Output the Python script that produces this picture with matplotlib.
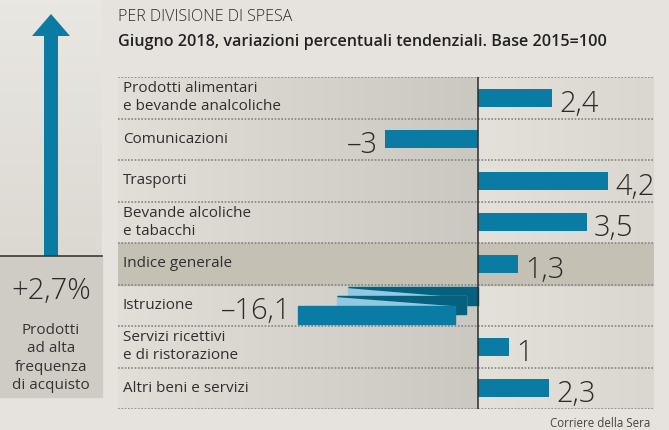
import numpy as np
import matplotlib
matplotlib.use("Agg")
import matplotlib.pyplot as plt
from matplotlib.patches import Rectangle, Polygon, FancyArrow
from matplotlib.colors import LinearSegmentedColormap

plt.rcParams['font.family'] = ['Open Sans', 'DejaVu Sans']

# dati
categories = [
    "Prodotti alimentari\ne bevande analcoliche",
    "Comunicazioni",
    "Trasporti",
    "Bevande alcoliche\ne tabacchi",
    "Indice generale",
    "Istruzione",
    "Servizi ricettivi\ne di ristorazione",
    "Altri beni e servizi",
]
values = [2.4, -3, 4.2, 3.5, 1.3, -16.1, 1, 2.3]
value_labels = ["2,4", "–3", "4,2", "3,5", "1,3", "–16,1", "1", "2,3"]
highlight = "Indice generale"

headline_value = "+2,7%"
headline_text = "Prodotti\nad alta\nfrequenza\ndi acquisto"

title = "PER DIVISIONE DI SPESA"
subtitle = "Giugno 2018, variazioni percentuali tendenziali. Base 2015=100"
source = "Corriere della Sera"

# colori
BG = "#e6e3de"
BLUE = "#0a7ba3"
DARK_BLUE = "#06617f"
LIGHT_BLUE = "#92c8e0"
HL = "#c4c1b4"

W, H = 669, 430
fig = plt.figure(figsize=(W / 100, H / 100), dpi=100, facecolor=BG)

# livello decorativo in pixel
deco = fig.add_axes([0, 0, 1, 1], zorder=0)
deco.set_xlim(0, W)
deco.set_ylim(H, 0)
deco.axis("off")

# pannello sinistro
grad = LinearSegmentedColormap.from_list("g", ["#e9e7e2", "#dcd9d3"])
deco.imshow(np.linspace(0, 1, 50).reshape(-1, 1), cmap=grad, extent=[0, 102, 256, 0],
            aspect="auto", zorder=1)
deco.add_patch(Rectangle((0, 256), 102, 141, color="#cfccc6", zorder=1))
deco.plot([0, 102], [256, 256], color="#3a3a3a", lw=1.2, zorder=3)
deco.add_patch(FancyArrow(51, 256, 0, -242, width=14, head_width=38, head_length=22,
                          length_includes_head=True, color=BLUE, lw=0, zorder=2))
deco.text(51, 291, headline_value, ha="center", va="center", fontsize=21,
          fontweight="light", color="#2a2a2a", zorder=3)
deco.text(51, 358, headline_text, ha="center", va="center", fontsize=11,
          color="#333333", linespacing=1.32, zorder=3)

# titoli
deco.text(118, 21, title, ha="left", va="baseline", fontsize=11.5,
          fontweight="light", color="#2a2a2a")
deco.text(118, 46, subtitle, ha="left", va="baseline", fontsize=11.6,
          fontweight="semibold", color="#222222")
deco.text(650, 427, source, ha="right", va="baseline", fontsize=8.3, color="#444444")

# grafico principale
ax = fig.add_axes([118 / W, 1 - 409 / H, 536 / W, 332 / H], zorder=2)
px = 31.0  # pixel per unità
xmin, xmax = -(478 - 118) / px, (654 - 478) / px
n = len(categories)
ax.set_xlim(xmin, xmax)
ax.set_ylim(n - 0.5, -0.5)
ax.axis("off")

left_grad = LinearSegmentedColormap.from_list("lg", ["#e2dfd9", "#cbc8c1"])
ax.imshow(np.linspace(0, 1, 100).reshape(1, -1), cmap=left_grad,
          extent=[xmin, 0, n - 0.5, -0.5], aspect="auto", zorder=0)
right_grad = LinearSegmentedColormap.from_list("rg", ["#e4e1db", "#dad7d1"])
ax.imshow(np.linspace(0, 1, 100).reshape(1, -1), cmap=right_grad,
          extent=[0, xmax, n - 0.5, -0.5], aspect="auto", zorder=0)

idx_hl = categories.index(highlight)
ax.add_patch(Rectangle((xmin, idx_hl - 0.5), xmax - xmin, 1, color=HL, zorder=1))

for yb in np.arange(-0.5, n, 1.0):
    ax.plot([xmin, xmax], [yb, yb], color="#858585", lw=1.2,
            linestyle=(0, (1, 1)), zorder=2)
ax.plot([0, 0], [-0.5, n - 0.5], color="#2b2b2b", lw=1.1, zorder=5)

bar_h = 0.43
break_at = -5.8  # barra interrotta per valori fuori scala

for i, (cat, v, lab) in enumerate(zip(categories, values, value_labels)):
    ax.text(xmin + 5 / px, i, cat, ha="left", va="center", fontsize=11,
            color="#2f2f2f", linespacing=1.25, zorder=6)
    if v >= break_at:
        ax.barh(i, v, height=bar_h, color=BLUE, zorder=4)
        end = v
    else:
        # effetto "piegato" per la barra fuori scala
        layers = [(-0.22, break_at + 1.6, 0.0, 0.7), (0.0, break_at + 1.25, -0.39, 0.4)]
        for dy, x0, x1, cut in layers:
            yc = i + dy
            top, bot = yc - bar_h / 2, yc + bar_h / 2
            xd = x1 - cut
            ax.add_patch(Rectangle((x0, top), x1 - x0, bar_h, color=LIGHT_BLUE, zorder=3))
            ax.add_patch(Polygon([(x0, top), (x1, top), (x1, bot), (xd, bot), (xd, top + 0.22)],
                                 color=DARK_BLUE, zorder=3))
        ax.add_patch(Rectangle((break_at, i + 0.23 - bar_h / 2), -0.75 - break_at, bar_h,
                               color=BLUE, zorder=4))
        end = break_at
    gap = 0.22
    if v >= 0:
        ax.text(end + gap, i + 0.34, lab, ha="left", va="baseline", fontsize=21,
                fontweight="light", color="#2a2a2a", zorder=6)
    else:
        ax.text(end - gap, i + 0.34, lab, ha="right", va="baseline", fontsize=21,
                fontweight="light", color="#2a2a2a", zorder=6)

fig.savefig("out.png", dpi=100, facecolor=BG)
